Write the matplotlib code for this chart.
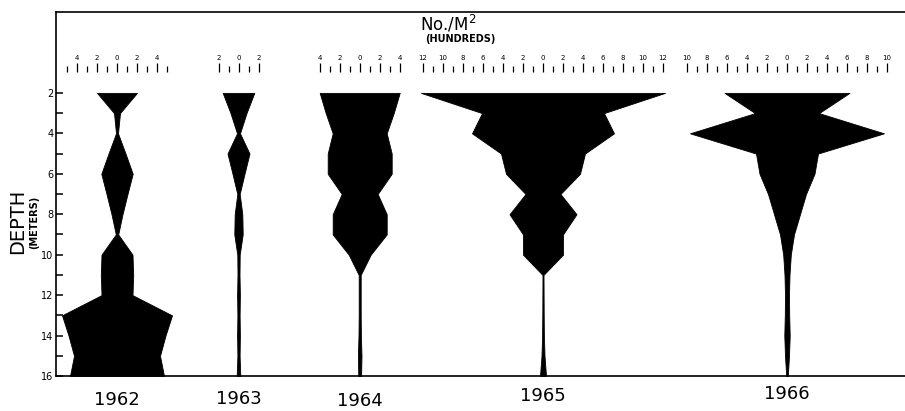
import matplotlib
matplotlib.use("Agg")
import matplotlib.pyplot as plt
import numpy as np

# ---- data (half-width of each kite, hundreds of individuals per m^2) ----
depths = [2, 3, 4, 5, 6, 7, 8, 9, 10, 11, 12, 13, 14, 15, 16]
years = ["1962", "1963", "1964", "1965", "1966"]
w1962 = [2.0, 0.30, 0.10, 0.85, 1.57, 1.05, 0.55, 0.12, 1.55, 1.62, 1.55, 5.5, 4.85, 4.3, 4.7]
w1963 = [1.58, 0.80, 0.15, 1.10, 0.60, 0.12, 0.38, 0.42, 0.12, 0.10, 0.14, 0.11, 0.14, 0.11, 0.18]
w1964 = [4.0, 3.4, 2.7, 3.2, 3.2, 1.8, 2.7, 2.7, 1.1, 0.10, 0.10, 0.10, 0.12, 0.18, 0.14]
w1965 = [12.2, 6.1, 7.1, 4.2, 3.7, 1.75, 3.35, 2.0, 2.0, 0.05, 0.06, 0.07, 0.09, 0.15, 0.30]
w1966 = [6.25, 3.2, 9.7, 3.1, 2.75, 1.9, 1.3, 0.7, 0.38, 0.25, 0.2, 0.22, 0.27, 0.2, 0.08]
widths = [w1962, w1963, w1964, w1965, w1966]
# scale range (hundreds) shown above each kite
scale_max = [5, 2, 4, 12, 10]

# ---- layout ----
centers = [6.1, 18.25, 30.37, 48.7, 73.1]
year_label_y = [400, 399, 401, 396, 394]  # pixels from top

W, H = 905, 411
fig = plt.figure(figsize=(W / 100, H / 100), dpi=100)
ax = fig.add_axes([56 / W, (H - 376) / H, (W - 56) / W, (376 - 12) / H])
ax.set_xlim(0, (W - 56) / 10)
ax.set_ylim(16, -2)

def ypx_to_depth(y):
    return 2 + (y - 93.3) / 20.2

for c, w, smax in zip(centers, widths, scale_max):
    w = np.asarray(w)
    ax.fill_betweenx(depths, c - w, c + w, color="black", lw=0.6, edgecolor="black")
    # scale ticks
    for v in range(-smax, smax + 1):
        top = ypx_to_depth(63) if v % 2 == 0 else ypx_to_depth(66)
        ax.plot([c + v, c + v], [ypx_to_depth(72), top], color="black", lw=0.9,
                solid_capstyle="butt", clip_on=False)
        if v % 2 == 0:
            ax.text(c + v, ypx_to_depth(58.5), str(abs(v)), ha="center", va="center",
                    fontsize=5, clip_on=False)

# year labels
for c, yr, ly in zip(centers, years, year_label_y):
    ax.text(c, ypx_to_depth(ly), yr, ha="center", va="center", fontsize=13,
            clip_on=False)

# title
ax.text((448 - 56) / 10, ypx_to_depth(24), r"No./M$^2$", ha="center", va="center",
        fontsize=12, clip_on=False)
ax.text((460 - 56) / 10, ypx_to_depth(39.5), "(HUNDREDS)", ha="center", va="center",
        fontsize=7, fontweight="bold", clip_on=False)

# depth axis
ax.set_yticks(range(2, 17, 2))
ax.set_yticks(range(2, 17), minor=True)
ax.tick_params(axis="y", which="both", direction="in", length=5, width=1.1,
               labelsize=7, pad=2)
ax.tick_params(axis="x", bottom=False, labelbottom=False)
ax.spines["right"].set_visible(False)
for s in ["left", "top", "bottom"]:
    ax.spines[s].set_linewidth(1.2)

fig.text(18 / W, 1 - 221 / H, "DEPTH", rotation=90, ha="center", va="center", fontsize=14)
fig.text(34 / W, 1 - 222 / H, "(METERS)", rotation=90, ha="center", va="center",
         fontsize=7, fontweight="bold")

fig.savefig("out.png", dpi=100)
